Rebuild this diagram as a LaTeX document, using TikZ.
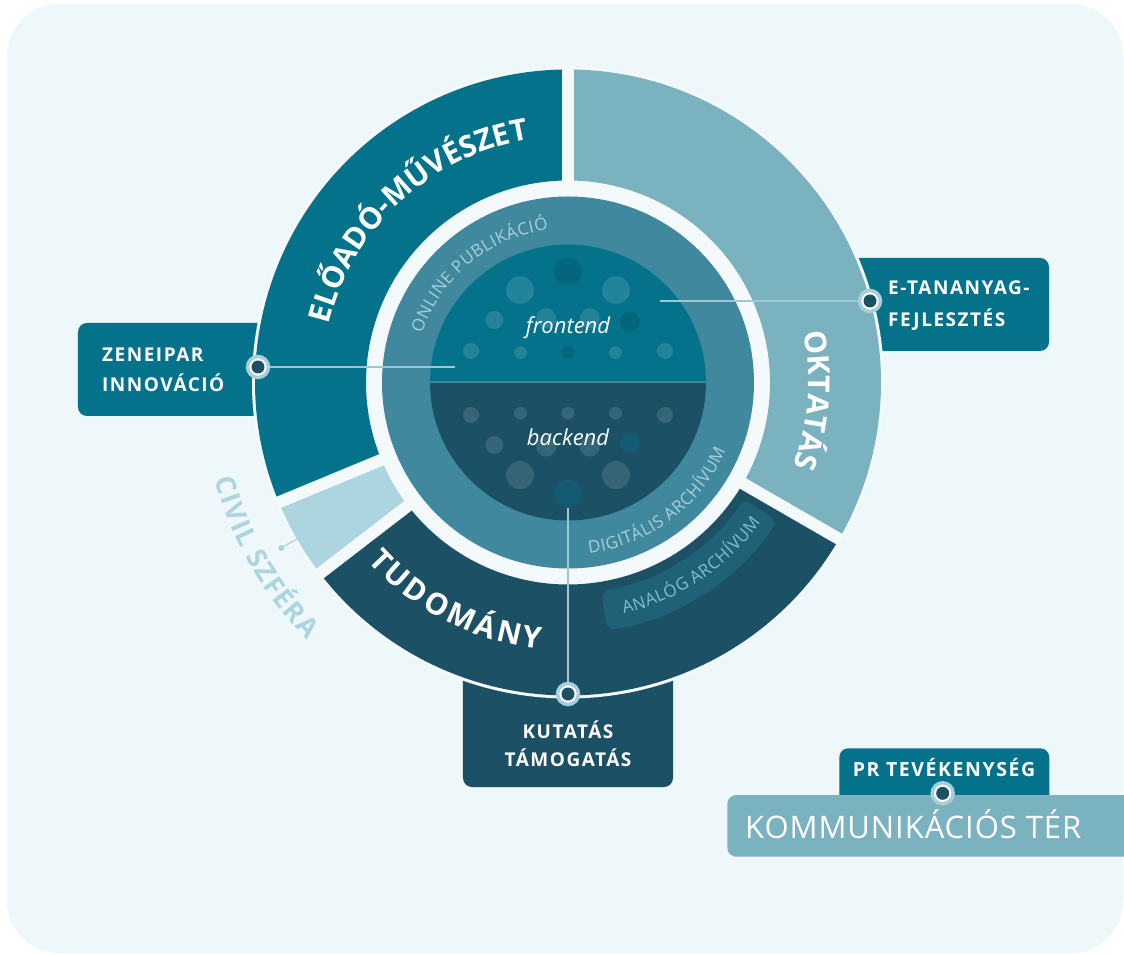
\documentclass[tikz,border=0pt]{standalone}
\usepackage{fontspec}
\setmainfont{Open Sans}
\newfontfamily\lblfont[LetterSpace=8]{Open Sans}
\newfontfamily\kommfont[LetterSpace=3]{Open Sans}
\usetikzlibrary{decorations.text}
\definecolor{bgc}{HTML}{EEF7FA}
\definecolor{gapc}{HTML}{F4FAFC}
\definecolor{tealc}{HTML}{04728B}
\definecolor{lightc}{HTML}{7BB2BF}
\definecolor{darkc}{HTML}{1B5065}
\definecolor{civilc}{HTML}{ADD5DF}
\definecolor{midc}{HTML}{3F889D}
\definecolor{analogc}{HTML}{1F6278}
\definecolor{ringtxt}{HTML}{A6D0DA}
\definecolor{analogtxt}{HTML}{86BBC9}
\definecolor{linec}{HTML}{9CC8D3}
\definecolor{dotring}{HTML}{A8CFD9}
\newcommand\ringsector[5]{\fill[#1] (#2:#4pt) arc[start angle=#2,end angle=#3,radius=#4pt] -- (#3:#5pt) arc[start angle=#3,end angle=#2,radius=#5pt] -- cycle;}
\newcommand\kT[1]{#1\kern2.8pt}
\newcommand\kC[1]{#1\kern1.5pt}
\newcommand\kR[1]{#1\kern0.6pt}
\tikzset{
  dotouter/.style={circle, fill=white, draw=dotring, line width=3.5pt, minimum size=21pt, inner sep=0pt},
  conn/.style={draw=linec, line width=1.3pt},
  lbl/.style={text=white, font=\lblfont\bfseries\fontsize{19}{19}\selectfont, inner sep=0pt},
  boxshape/.style={rounded corners=9pt},
  lightdot/.style={white, opacity=0.12},
}
\begin{document}
\begin{tikzpicture}[x=1pt,y=1pt]
\useasboundingbox (-568,-572.5) rectangle (556,382.5);
\clip (-568,-572.5) rectangle (556,382.5);
\fill[white] (-568,-572.5) rectangle (556,382.5);
\fill[bgc, rounded corners=52pt] (-561,378.5) rectangle (555,-570.5);

% boxes behind the ring
\fill[tealc, boxshape] (-490,59.5) rectangle (-268,-33.5);
\fill[tealc, boxshape] (252,124.5) rectangle (481,31.5);
\fill[darkc, boxshape] (-105,-260) rectangle (105,-404.5);
\fill[tealc, boxshape] (271.3,-365.8) rectangle (481.3,-430);
\fill[lightc, boxshape] (159.3,-412.5) rectangle (590,-474.2);

\node[lbl, anchor=base west] (zen1) at (-466,20.5) {ZENEIPAR};
\node[lbl, anchor=base west] (zen2) at (-466,-9.2) {INNOVÁCIÓ};
\node[lbl, anchor=base west] (et1) at (320,87.5) {E-TANANYAG-};
\node[lbl, anchor=base west] (et2) at (320,55.8) {FEJLESZTÉS};
\node[lbl, anchor=base] (ku1) at (0,-355.8) {KUTATÁS};
\node[lbl, anchor=base] (ku2) at (0,-384.2) {TÁMOGATÁS};
\node[lbl, anchor=base, font=\lblfont\bfseries\fontsize{19.5}{19.5}\selectfont] (pr) at (376,-394.2) {PR TEVÉKENYSÉG};
\node[text=white, font=\kommfont\fontsize{31}{31}\selectfont, inner sep=0pt, anchor=base west] (komm) at (177,-455.8) {KOMMUNIKÁCIÓS TÉR};

% outer ring
\fill[gapc] (0,0) circle (316pt);
\ringsector{lightc}{-30}{90}{202}{313}
\ringsector{tealc}{90}{202.5}{202}{313}
\ringsector{civilc}{202.5}{217.6}{202}{313}
\ringsector{darkc}{217.6}{330}{202}{313}
\foreach \a in {90,-30,202.5,217.6} \draw[gapc, line width=12pt] (\a:196pt) -- (\a:314pt);

% analog band
\fill[analogc, rounded corners=8pt] (-81:211pt) arc[start angle=-81,end angle=-33.5,radius=211pt] -- (-33.5:251pt) arc[start angle=-33.5,end angle=-81,radius=251pt] -- cycle;

% middle ring and core
\fill[midc] (0,0) circle (186pt);
\fill[tealc] (0:138pt) arc[start angle=0,end angle=180,radius=138pt] -- cycle;
\fill[darkc] (180:138pt) arc[start angle=180,end angle=360,radius=138pt] -- cycle;

\foreach \px/\py/\pr in {-48/92.5/14, 48/92.5/14, -73.7/62.5/9, -21.7/64.2/10, 21.7/64.2/10, -97/31.5/8, -47.5/29.8/6.5, 47.5/29.8/6.5, 97/31.5/8,
  -97/-32.5/8, -47.5/-30.8/6.5, 0/-30.8/6.5, 47.5/-30.8/6.5, 97/-32.5/8, -73.7/-62.5/9, -21.7/-64.2/10, 21.7/-64.2/10, -48/-92.5/14, 48/-92.5/14}
  \fill[lightdot] (\px,\py) circle (\pr pt);
\foreach \px/\py/\pr in {0/110.8/14, 62/60.8/10, 0/29.8/6.5}
  \fill[black, opacity=0.1] (\px,\py) circle (\pr pt);
\foreach \px/\py/\pr in {62/-60.8/10, 0/-110.8/14}
  \fill[tealc, opacity=0.35] (\px,\py) circle (\pr pt);
\draw[midc, line width=2pt] (180:138pt) -- (0:138pt);

\node[text=white, font=\itshape\fontsize{22}{22}\selectfont] (fe) at (0,55) {frontend};
\node[text=white, font=\itshape\fontsize{22}{22}\selectfont] (be) at (0,-54.5) {backend};

% texts along arcs
\path[decorate, decoration={text along path, text align=center, text color=white,
  text={|\bfseries\fontsize{30}{30}\selectfont|ELŐADÓ-MŰVÉSZET}}]
  (212.75:246pt) arc[start angle=212.75, end angle=52.75, radius=246pt];
\path[decorate, decoration={text along path, text align=center, text color=white,
  text={|\bfseries\fontsize{30}{30}\selectfont|{\kT T}{\kT U}{\kT D}{\kT O}{\kT M}{\kT Á}{\kT N}Y}}]
  (-197.1:268pt) arc[start angle=-197.1, end angle=-37.1, radius=268pt];
\path[decorate, decoration={text along path, text align=center, text color=white,
  text={|\bfseries\fontsize{30}{30}\selectfont|OKTATÁS}}]
  (75.8:240.5pt) arc[start angle=75.8, end angle=-84.2, radius=240.5pt];
\path[decorate, decoration={text along path, text align=center, text color=civilc,
  text={|\bfseries\fontsize{27}{27}\selectfont|{\kC C}{\kC I}{\kC V}{\kC I}{\kC L} {\kC S}{\kC Z}{\kC F}{\kC É}{\kC R}A}}]
  (150:366.5pt) arc[start angle=150, end angle=270, radius=366.5pt];
\path[decorate, decoration={text along path, text align=center, text color=ringtxt,
  text={|\fontsize{17}{17}\selectfont|{\kR O}{\kR N}{\kR L}{\kR I}{\kR N}{\kR E} {\kR P}{\kR U}{\kR B}{\kR L}{\kR I}{\kR K}{\kR Á}{\kR C}{\kR I}Ó}}]
  (189.4:154pt) arc[start angle=189.4, end angle=69.4, radius=154pt];
\path[decorate, decoration={text along path, text align=center, text color=ringtxt,
  text={|\fontsize{17}{17}\selectfont|{\kR D}{\kR I}{\kR G}{\kR I}{\kR T}{\kR Á}{\kR L}{\kR I}{\kR S} {\kR A}{\kR R}{\kR C}{\kR H}{\kR Í}{\kR V}{\kR U}M}}]
  (-113.2:172pt) arc[start angle=-113.2, end angle=6.8, radius=172pt];
\path[decorate, decoration={text along path, text align=center, text color=analogtxt,
  text={|\fontsize{17}{17}\selectfont|{\kR A}{\kR N}{\kR A}{\kR L}{\kR Ó}{\kR G} {\kR A}{\kR R}{\kR C}{\kR H}{\kR Í}{\kR V}{\kR U}M}}]
  (-116.2:238pt) arc[start angle=-116.2, end angle=3.8, radius=238pt];

% connectors and dots
\coordinate (zc) at (-310,15.5);
\coordinate (zend) at (-113,15.5);
\coordinate (ec) at (302,81.5);
\coordinate (eend) at (92,81.5);
\coordinate (kc) at (0,-311.5);
\coordinate (kend) at (0,-125.5);
\coordinate (pc) at (374.7,-410.8);
\draw[conn] (zend) -- (zc);
\draw[conn] (eend) -- (ec);
\draw[conn] (kend) -- (kc);
\node[dotouter] (zdot) at (zc) {};
\node[dotouter] (edot) at (ec) {};
\node[dotouter] (kdot) at (kc) {};
\node[dotouter] (pdot) at (pc) {};
\foreach \n in {zdot,edot,kdot,pdot} \fill[darkc] (\n.center) circle (6.5pt);

\coordinate (cva) at (210:313pt);
\node[circle, fill=civilc, minimum size=6pt, inner sep=0pt] (cvdot) at (210:331pt) {};
\draw[civilc, line width=1.3pt] (cva) -- (cvdot);
\end{tikzpicture}
\end{document}
